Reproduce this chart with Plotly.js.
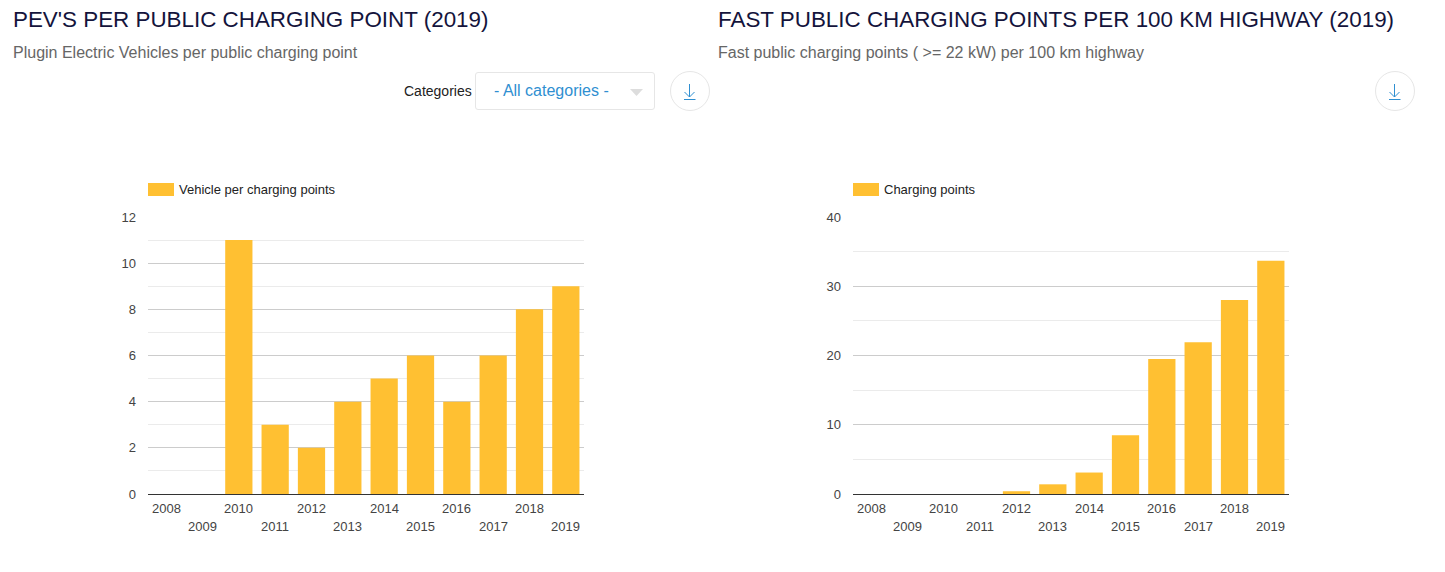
<!DOCTYPE html>
<html>
<head>
<meta charset="utf-8">
<script src="https://cdn.plot.ly/plotly-3.0.1.min.js"></script>
<style>
html, body { margin: 0; padding: 0; background: #fff; overflow: hidden; }
</style>
</head>
<body>
<div id="main-screen" style="width:1445px;height:572px"></div>
<script>
// ------------------------------------------------------------------------------
// DATA

const years          = ['2008', '2009', '2010', '2011', '2012', '2013', '2014', '2015', '2016', '2017', '2018', '2019'];
const vehicle_points = [0, 0, 11, 3, 2, 4, 5, 6, 4, 6, 8, 9];
const fast_points    = [0, 0, 0, 0, 0.4, 1.4, 3.1, 8.5, 19.5, 21.9, 28, 33.7];

// ------------------------------------------------------------------------------
// PARAMETERS

const W = 1445;
const H = 572;
const font_family = '"Liberation Sans", Arial, Helvetica, sans-serif';
const bar_color   = '#ffc032';
const blue        = '#2f8fd1';
const ring_color  = '#e6e6e6';

// pixel position on the page -> paper coordinates
const px = x => x / W;
const py = y => 1 - y / H;

function text_at(x, y, text, size, color) {
    return {
        text: text, x: px(x), y: py(y), xref: 'paper', yref: 'paper',
        xanchor: 'left', yanchor: 'middle', showarrow: false,
        font: { family: font_family, size: size, color: color }
    };
}

function line_at(x0, y0, x1, y1, color, width) {
    return {
        type: 'line', xref: 'paper', yref: 'paper',
        x0: px(x0), y0: py(y0), x1: px(x1), y1: py(y1),
        line: { color: color, width: width }
    };
}

// download button: ring plus arrow
function download_icon(cx, cy) {
    return [
        {
            type: 'circle', xref: 'paper', yref: 'paper',
            x0: px(cx - 19.5), y0: py(cy + 19.5), x1: px(cx + 19.5), y1: py(cy - 19.5),
            line: { color: ring_color, width: 1 }, fillcolor: '#fff'
        },
        line_at(cx - 0.5, cy - 7, cx - 0.5, cy + 6, blue, 1),
        line_at(cx - 5.5, cy + 1, cx - 0.5, cy + 6, blue, 1),
        line_at(cx + 4.5, cy + 1, cx - 0.5, cy + 6, blue, 1),
        line_at(cx - 6, cy + 8.5, cx + 5.5, cy + 8.5, blue, 1)
    ];
}

// the x labels sit on two alternating rows, placed by category index
function year_labels(xref) {
    return years.map((year, i) => ({
        text: year, x: i, y: py(i % 2 === 0 ? 508.5 : 526), xref: xref, yref: 'paper',
        xanchor: 'center', yanchor: 'middle', showarrow: false,
        font: { family: font_family, size: 13, color: '#444' }
    }));
}

function y_axis(domain_anchor, range, major, minor) {
    return {
        domain: [py(494), py(217)],
        anchor: domain_anchor,
        range: range,
        tick0: 0,
        dtick: major,
        showgrid: true,
        gridcolor: '#cccccc',
        gridwidth: 1,
        minor: { dtick: minor, tick0: 0, showgrid: true, gridcolor: '#ebebeb', gridwidth: 1, ticks: '' },
        zeroline: true,
        zerolinecolor: '#333333',
        zerolinewidth: 1,
        showline: false,
        ticks: '',
        ticklabelstandoff: 11,
        tickfont: { family: font_family, size: 13, color: '#444' }
    };
}

function x_axis(domain, domain_anchor) {
    return {
        domain: domain,
        anchor: domain_anchor,
        type: 'category',
        categoryorder: 'array',
        categoryarray: years,
        range: [-0.5, 11.5],
        autorange: false,
        showticklabels: false,
        showgrid: false,
        ticks: '',
        zeroline: false
    };
}

// ------------------------------------------------------------------------------
// LOGIC

const vehicle_trace = {
    type: 'bar', x: years, y: vehicle_points, xaxis: 'x', yaxis: 'y',
    marker: { color: bar_color }, hoverinfo: 'x+y'
};

const fast_trace = {
    type: 'bar', x: years, y: fast_points, xaxis: 'x2', yaxis: 'y2',
    marker: { color: bar_color }, hoverinfo: 'x+y'
};

const layout = {
    width: W,
    height: H,
    autosize: false,
    showlegend: false,
    bargap: 0.25,
    paper_bgcolor: '#fff',
    plot_bgcolor: '#fff',
    margin: { l: 0, r: 0, t: 0, b: 0, pad: 0 },
    font: { family: font_family },
    xaxis: x_axis([px(148), px(584)], 'y'),
    yaxis: y_axis('x', [0, 12], 2, 1),
    xaxis2: x_axis([px(853), px(1289)], 'y2'),
    yaxis2: y_axis('x2', [0, 40], 10, 5),
    shapes: [
        // dropdown box
        {
            type: 'path', xref: 'paper', yref: 'paper',
            path: 'M' + px(478) + ',' + py(72.5) + ' L' + px(652) + ',' + py(72.5)
                + ' Q' + px(654.5) + ',' + py(72.5) + ' ' + px(654.5) + ',' + py(75)
                + ' L' + px(654.5) + ',' + py(107)
                + ' Q' + px(654.5) + ',' + py(109.5) + ' ' + px(652) + ',' + py(109.5)
                + ' L' + px(478) + ',' + py(109.5)
                + ' Q' + px(475.5) + ',' + py(109.5) + ' ' + px(475.5) + ',' + py(107)
                + ' L' + px(475.5) + ',' + py(75)
                + ' Q' + px(475.5) + ',' + py(72.5) + ' ' + px(478) + ',' + py(72.5) + ' Z',
            line: { color: ring_color, width: 1 }, fillcolor: '#fff'
        },
        // dropdown caret
        {
            type: 'path', xref: 'paper', yref: 'paper',
            path: 'M' + px(630) + ',' + py(89) + ' L' + px(643) + ',' + py(89) + ' L' + px(636.5) + ',' + py(96) + ' Z',
            line: { width: 0 }, fillcolor: '#dddddd'
        },
        ...download_icon(690, 91),
        ...download_icon(1395, 91),
        // legend swatches
        {
            type: 'rect', xref: 'paper', yref: 'paper',
            x0: px(148), y0: py(196), x1: px(174), y1: py(183),
            line: { width: 0 }, fillcolor: bar_color
        },
        {
            type: 'rect', xref: 'paper', yref: 'paper',
            x0: px(853), y0: py(196), x1: px(879), y1: py(183),
            line: { width: 0 }, fillcolor: bar_color
        }
    ],
    annotations: [
        text_at(11, 19.5, "PEV'S PER PUBLIC CHARGING POINT (2019)", 22.4, '#14143c'),
        text_at(11, 52.5, 'Plugin Electric Vehicles per public charging point', 16, '#666666'),
        text_at(716, 19.5, 'FAST PUBLIC CHARGING POINTS PER 100 KM HIGHWAY (2019)', 22.4, '#14143c'),
        text_at(716, 52.5, 'Fast public charging points ( >= 22 kW) per 100 km highway', 16, '#666666'),
        text_at(402, 91, 'Categories', 14, '#222222'),
        text_at(492, 90.5, '- All categories -', 16, blue),
        text_at(177, 189.5, 'Vehicle per charging points', 13, '#222222'),
        text_at(882, 189.5, 'Charging points', 13, '#222222'),
        ...year_labels('x'),
        ...year_labels('x2')
    ]
};

const displayConfig = { displayModeBar: false, responsive: false };

Plotly.newPlot('main-screen', [vehicle_trace, fast_trace], layout, displayConfig);
</script>
</body>
</html>
